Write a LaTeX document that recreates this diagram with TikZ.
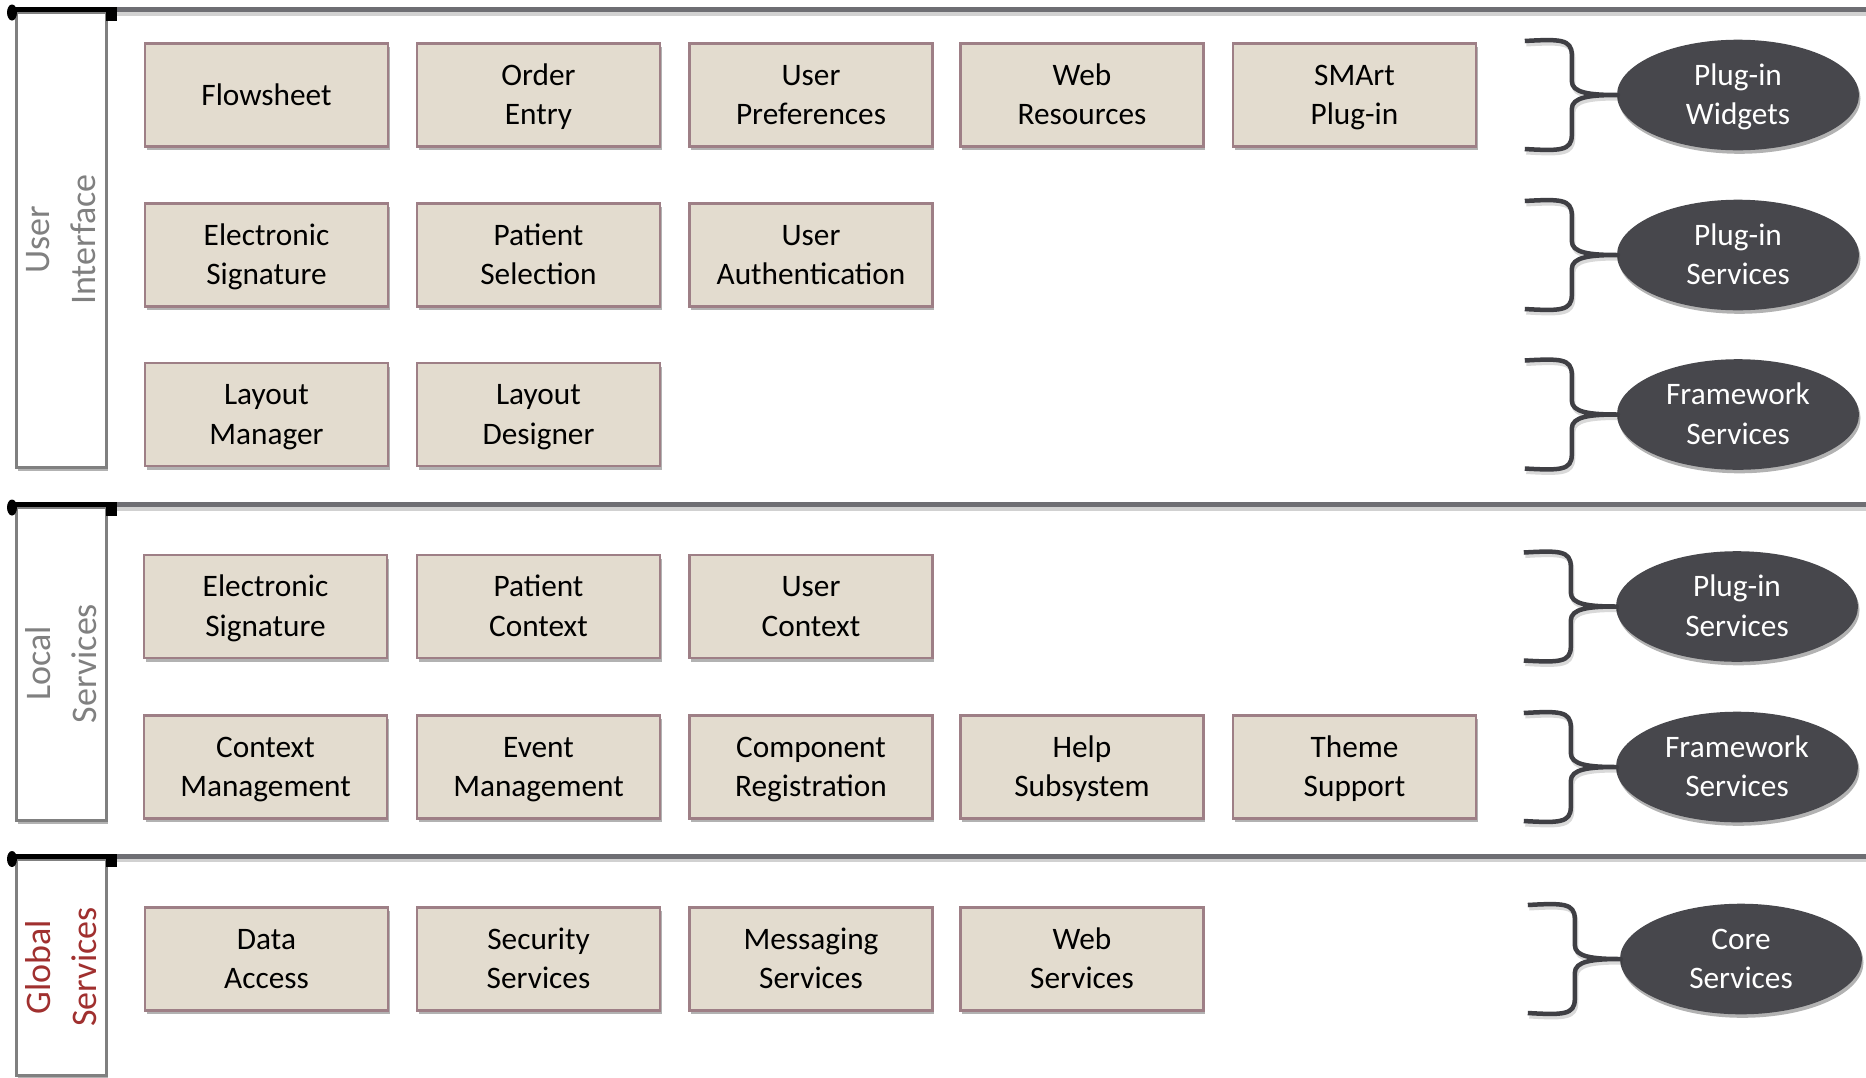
\documentclass[tikz,border=0pt]{standalone}
\usepackage{fontspec}
\setmainfont{Carlito}
\usetikzlibrary{shapes.geometric,shadows}
\definecolor{boxfill}{HTML}{E3DCCF}
\definecolor{boxdraw}{HTML}{9E7F86}
\definecolor{ellfill}{HTML}{47474C}
\definecolor{bargray}{HTML}{6E6E73}
\definecolor{lanegray}{HTML}{808080}
\definecolor{lanered}{HTML}{A0302F}
\definecolor{bracecol}{HTML}{3F3F44}
\newcommand\ls{\rule[-9.3pt]{0pt}{38.6pt}}
\newcommand\tl[2]{\ls#1\\\ls#2}
\tikzset{
  myshadow/.style={drop shadow={shadow xshift=1.5pt, shadow yshift=-3.5pt, opacity=0.3, fill=black}},
  compbox/.style={draw=boxdraw, fill=boxfill, line width=2.5pt, minimum width=243pt, minimum height=103pt,
    inner sep=0pt, align=center, font=\fontsize{31.3}{37}\selectfont, myshadow},
  grpell/.style={ellipse, fill=ellfill, minimum width=242pt, minimum height=104pt, inner sep=0pt,
    align=center, text=white, font=\fontsize{31.3}{37}\selectfont, myshadow},
  lanebox/.style={draw=lanegray, fill=white, line width=3pt, minimum width=90pt, inner sep=0pt, myshadow},
  lanetext/.style={rotate=90, align=center, text=lanegray, font=\fontsize{36}{46}\selectfont},
  sepbar/.style={draw=bargray, line width=5pt},
  barshadow/.style={draw=black, opacity=0.18, line width=4pt},
  bracepath/.style={draw=bracecol, line width=4.5pt, line join=round},
  gbrace/.pic={
    \draw[black, opacity=0.15, line width=4pt, shift={(1.5,3.5)}]
      (-93,-54) .. controls (-58,-56) and (-46,-56) .. (-46,-40) -- (-46,-14)
      .. controls (-46,-2) and (-28,0) .. (0,0) .. controls (-28,0) and (-46,2) .. (-46,14)
      -- (-46,40) .. controls (-46,56) and (-58,56) .. (-93,54);
    \draw[bracepath]
      (-93,-54) .. controls (-58,-56) and (-46,-56) .. (-46,-40) -- (-46,-14)
      .. controls (-46,-2) and (-28,0) .. (0,0) .. controls (-28,0) and (-46,2) .. (-46,14)
      -- (-46,40) .. controls (-46,56) and (-58,56) .. (-93,54);
  }
}
\begin{document}
\begin{tikzpicture}[x=1pt,y=-1pt]
\useasboundingbox (0,0) rectangle (1866,1077);
\fill[white] (0,0) rectangle (1866,1077);

% lane boxes
\node[lanebox, minimum height=455pt] (L1) at (61,239.5) {};
\node[lanetext] (L1t) at (L1.center) {User\\Interface};
\node[lanebox, minimum height=313pt] (L2) at (61,663.5) {};
\node[lanetext] (L2t) at (L2.center) {Local\\Services};
\node[lanebox, minimum height=216pt] (L3) at (61,967) {};
\node[lanetext, text=lanered] (L3t) at (L3.center) {Global\\Services};

% separator bars
\foreach \yy/\nm in {9.5/b1, 504.5/b2, 856/b3}{
  \coordinate (\nm s) at (117,\yy);
  \coordinate (\nm e) at (1866,\yy);
  \coordinate (\nm l) at (10,\yy);
  \draw[barshadow] ([yshift=-4pt]\nm s) -- ([yshift=-4pt]\nm e);
  \draw[sepbar] (\nm s) -- (\nm e);
  \draw[line width=5pt, black] (\nm l) -- (\nm s);
  \fill[black] ([shift={(2,3)}]\nm l) ellipse [x radius=5, y radius=8];
  \fill[black] ([shift={(-11,2)}]\nm s) rectangle ([shift={(0,11)}]\nm s);
}

% row 1
\node[compbox] (r1c1) at (266.5,95) {\ls Flowsheet};
\node[compbox] (r1c2) at (538.5,95) {\tl{Order}{Entry}};
\node[compbox] (r1c3) at (811,95) {\tl{User}{Preferences}};
\node[compbox] (r1c4) at (1082,95) {\tl{Web}{Resources}};
\node[compbox] (r1c5) at (1354.5,95) {\tl{SMArt}{Plug-in}};
% row 2
\node[compbox] (r2c1) at (266.5,255) {\tl{Electronic}{Signature}};
\node[compbox] (r2c2) at (538.5,255) {\tl{Patient}{Selection}};
\node[compbox] (r2c3) at (811,255) {\tl{User}{Authentication}};
% row 3
\node[compbox] (r3c1) at (266.5,414.5) {\tl{Layout}{Manager}};
\node[compbox] (r3c2) at (538.5,414.5) {\tl{Layout}{Designer}};
% row 4
\node[compbox] (r4c1) at (265.5,606.5) {\tl{Electronic}{Signature}};
\node[compbox] (r4c2) at (538.5,606.5) {\tl{Patient}{Context}};
\node[compbox] (r4c3) at (811,606.5) {\tl{User}{Context}};
% row 5
\node[compbox] (r5c1) at (265.5,767) {\tl{Context}{Management}};
\node[compbox] (r5c2) at (538.5,767) {\tl{Event}{Management}};
\node[compbox] (r5c3) at (811,767) {\tl{Component}{Registration}};
\node[compbox] (r5c4) at (1082,767) {\tl{Help}{Subsystem}};
\node[compbox] (r5c5) at (1354.5,767) {\tl{Theme}{Support}};
% row 6
\node[compbox] (r6c1) at (266.5,959) {\tl{Data}{Access}};
\node[compbox] (r6c2) at (538.5,959) {\tl{Security}{Services}};
\node[compbox] (r6c3) at (811,959) {\tl{Messaging}{Services}};
\node[compbox] (r6c4) at (1082,959) {\tl{Web}{Services}};

% group ellipses
\node[grpell] (e1) at (1738,95) {\tl{Plug-in}{Widgets}};
\node[grpell] (e2) at (1738,255) {\tl{Plug-in}{Services}};
\node[grpell] (e3) at (1738,414.5) {\tl{Framework}{Services}};
\node[grpell] (e4) at (1737,606.5) {\tl{Plug-in}{Services}};
\node[grpell] (e5) at (1737,767) {\tl{Framework}{Services}};
\node[grpell] (e6) at (1741,959) {\tl{Core}{Services}};

% braces
\foreach \e in {e1,e2,e3,e4,e5,e6}{
  \pic at ([xshift=1pt]\e.west) {gbrace};
}
\end{tikzpicture}
\end{document}
